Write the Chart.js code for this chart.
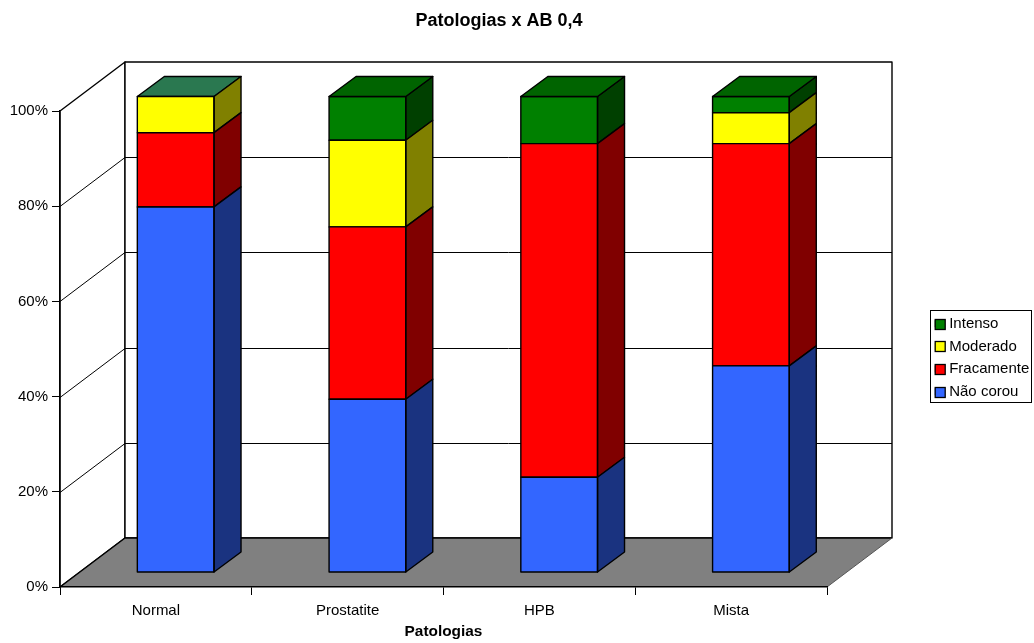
<!DOCTYPE html>
<html>
<head>
<meta charset="utf-8">
<style>
  body { margin: 0; background: #fff; }
  canvas { display: block; }
</style>
<script src="https://cdn.jsdelivr.net/npm/chart.js@4/dist/chart.umd.min.js"></script>
</head>
<body>
<canvas id="chart" width="1034" height="643"></canvas>
<script>
// Values (percent of each column)
const categories = ['Normal', 'Prostatite', 'HPB', 'Mista'];
const naoCorou = [76.8, 36.4, 20, 43.4];
const fracamente = [15.6, 36.2, 70.1, 46.7];
const moderado = [7.6, 18.2, 0, 6.5];
const intenso = [0, 9.2, 9.9, 3.4];

// Fake 3D look: wall depth, bar depth and where the bars sit on the floor
const wallDepth = { x: 65, y: 49 };
const barDepth = { x: 27, y: 20 };
const barShift = { x: 19.8, y: -14.5 };
const sideColors = ['#1a3380', '#800000', '#808000', '#004000'];
const topColors = ['#2a7850', '#006400', '#006400', '#006400'];
const heavyLine = 1.4;

function polygon(ctx, points, fill, stroke, width) {
  ctx.beginPath();
  points.forEach((p, i) => (i ? ctx.lineTo(p[0], p[1]) : ctx.moveTo(p[0], p[1])));
  ctx.closePath();
  if (fill) {
    ctx.fillStyle = fill;
    ctx.fill();
  }
  if (stroke) {
    ctx.strokeStyle = stroke;
    ctx.lineWidth = width || 1;
    ctx.lineJoin = 'round';
    ctx.stroke();
  }
}

const fake3d = {
  id: 'fake3d',
  // put title and legend where the original has them
  afterLayout(chart) {
    const legend = chart.legend;
    legend.left = 927;
    legend.right = 1034;
    legend.top = 308.5;
    legend.bottom = 643;
    chart.titleBlock.left = 0;
    chart.titleBlock.right = 998;
  },
  // walls and floor go under everything
  beforeDraw(chart) {
    const ctx = chart.ctx;
    const a = chart.chartArea;
    const dx = wallDepth.x;
    const dy = wallDepth.y;
    ctx.save();
    polygon(ctx, [[a.left, a.top], [a.left + dx, a.top - dy], [a.left + dx, a.bottom - dy], [a.left, a.bottom]], '#fff', '#000', heavyLine);
    polygon(ctx, [[a.left + dx, a.top - dy], [a.right + dx, a.top - dy], [a.right + dx, a.bottom - dy], [a.left + dx, a.bottom - dy]], '#fff', '#000', heavyLine);
    chart.scales.y.ticks.forEach((t) => {
      const y = Math.round(chart.scales.y.getPixelForValue(t.value)) + 0.5;
      if (t.value === 0 || t.value === 100) return;
      ctx.beginPath();
      ctx.moveTo(a.left, y);
      ctx.lineTo(a.left + dx, y - dy);
      ctx.lineTo(a.right + dx, y - dy);
      ctx.strokeStyle = '#000';
      ctx.lineWidth = 1;
      ctx.stroke();
    });
    polygon(ctx, [[a.left, a.bottom], [a.left + dx, a.bottom - dy], [a.right + dx, a.bottom - dy], [a.right, a.bottom]], '#808080');
    ctx.beginPath();
    ctx.moveTo(a.left, a.bottom);
    ctx.lineTo(a.left + dx, a.bottom - dy);
    ctx.lineTo(a.right + dx, a.bottom - dy);
    ctx.strokeStyle = '#000';
    ctx.lineWidth = heavyLine;
    ctx.stroke();
    ctx.beginPath();
    ctx.moveTo(a.right + dx, a.bottom - dy);
    ctx.lineTo(a.right, a.bottom);
    ctx.strokeStyle = '#555';
    ctx.lineWidth = 1;
    ctx.stroke();
    ctx.restore();
  },
  beforeDatasetsDraw(chart) {
    chart.ctx.save();
    chart.ctx.translate(barShift.x, barShift.y);
  },
  afterDatasetDraw(chart, args) {
    const ctx = chart.ctx;
    const last = chart.data.datasets.length - 1;
    args.meta.data.forEach((bar, i) => {
      const l = bar.x - bar.width / 2;
      const r = bar.x + bar.width / 2;
      const dx = barDepth.x;
      const dy = barDepth.y;
      if (Math.abs(bar.base - bar.y) > 0.5) {
        polygon(ctx, [[r, bar.y], [r + dx, bar.y - dy], [r + dx, bar.base - dy], [r, bar.base]], sideColors[args.index], '#000', heavyLine);
        polygon(ctx, [[l, bar.y], [r, bar.y], [r, bar.base], [l, bar.base]], null, '#000', heavyLine);
      }
      if (args.index === last) {
        polygon(ctx, [[l, bar.y], [l + dx, bar.y - dy], [r + dx, bar.y - dy], [r, bar.y]], topColors[i], '#000', heavyLine);
      }
    });
  },
  afterDatasetsDraw(chart) {
    chart.ctx.restore();
  },
  // legend frame and the wider swatches
  afterDraw(chart) {
    const ctx = chart.ctx;
    ctx.save();
    ctx.strokeStyle = '#000';
    ctx.lineWidth = 1;
    ctx.strokeRect(930.5, 310.5, 101, 92);
    chart.legend.legendHitBoxes.forEach((box, i) => {
      const item = chart.legend.legendItems[i];
      const y = Math.round(box.top + box.height / 2 - 5) + 0.5;
      ctx.fillStyle = item.fillStyle;
      ctx.fillRect(box.left + 0.5, y, 10, 10);
      ctx.lineWidth = 1.3;
      ctx.strokeRect(box.left + 0.5, y, 10, 10);
    });
    ctx.restore();
  }
};

function makeSeries(label, data, color) {
  return {
    label: label,
    data: data,
    backgroundColor: color,
    borderWidth: 0,
    clip: false
  };
}

const font = { family: '"Liberation Sans", Arial, sans-serif', size: 15 };
Chart.defaults.color = '#000';
Chart.defaults.font.family = font.family;
Chart.defaults.font.size = font.size;

new Chart(document.getElementById('chart'), {
  type: 'bar',
  data: {
    labels: categories,
    datasets: [
      makeSeries('Não corou', naoCorou, '#3366ff'),
      makeSeries('Fracamente', fracamente, '#ff0000'),
      makeSeries('Moderado', moderado, '#ffff00'),
      makeSeries('Intenso', intenso, '#008000')
    ]
  },
  options: {
    responsive: false,
    animation: false,
    layout: { autoPadding: false, padding: { left: 0, right: 207, top: 0, bottom: 0 } },
    datasets: { bar: { categoryPercentage: 1, barPercentage: 0.4 } },
    scales: {
      x: {
        stacked: true,
        afterFit(scale) { scale.height = 56; },
        grid: { drawOnChartArea: false, tickLength: 8, color: '#000' },
        border: { color: '#000', width: heavyLine },
        ticks: { padding: 7, maxRotation: 0 },
        title: {
          display: true,
          text: 'Patologias',
          font: { weight: 'bold', size: 15.4 },
          padding: { top: 0, bottom: 2 }
        }
      },
      y: {
        stacked: true,
        min: 0,
        max: 100,
        afterFit(scale) { scale.width = 60; },
        grid: { drawOnChartArea: false, tickLength: 8, color: '#000' },
        border: { color: '#000', width: heavyLine },
        ticks: { stepSize: 20, padding: 4, callback: (v) => v + '%' }
      }
    },
    plugins: {
      title: {
        display: true,
        text: 'Patologias x AB 0,4',
        font: { weight: 'bold', size: 18 },
        padding: { top: 10, bottom: 79.4 }
      },
      legend: {
        position: 'chartArea',
        align: 'start',
        reverse: true,
        labels: { boxWidth: 7, boxHeight: 7, padding: 7.7, font: { size: font.size } }
      },
      tooltip: { enabled: false }
    }
  },
  plugins: [fake3d]
});
</script>
</body>
</html>
